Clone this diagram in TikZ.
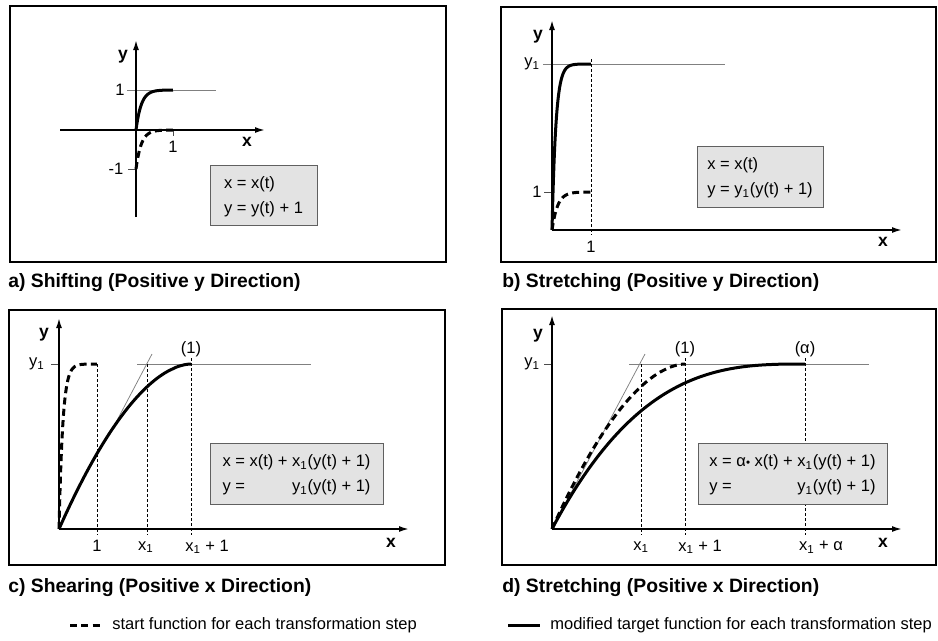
\documentclass[tikz,border=0pt]{standalone}
\usepackage{fontspec}
\setmainfont{Liberation Sans}
\usepackage{tikz}
\usetikzlibrary{arrows.meta}
\newcommand{\low}[1]{\textsubscript{#1}}
\renewcommand{\arraystretch}{1.25}
\tikzset{
  frame/.style={draw=black, line width=1.5pt},
  axis/.style={-{Latex[length=6pt,width=3.6pt]}, line width=1pt},
  curve/.style={line width=1.8pt},
  startcurve/.style={line width=1.8pt, dash pattern=on 4.2pt off 2.6pt},
  refline/.style={draw=gray, line width=0.45pt},
  tickline/.style={draw=black!70, line width=0.45pt},
  guide/.style={draw=black, line width=0.5pt, dash pattern=on 1.6pt off 1.4pt},
  eqbox/.style={
    draw=gray!75!black, fill=gray!22, line width=0.6pt,
    minimum height=36.3pt, inner sep=0pt,
    font=\fontsize{9.9}{12}\selectfont
  },
  axlabel/.style={font=\fontsize{10.5}{12}\selectfont\bfseries, inner sep=0pt},
  ticklabel/.style={font=\fontsize{9.9}{12}\selectfont, inner sep=0pt},
  caption/.style={anchor=west, font=\fontsize{11.6}{14}\selectfont\bfseries, inner sep=0pt},
  legend/.style={anchor=west, font=\fontsize{9.9}{12}\selectfont, inner sep=0pt},
  declare function={
    rise(\t,\k)=(1-exp(-\k*\t))/(1-exp(-\k));
    bend(\s,\p)=1-(1-\s)^\p;
  }
}

\begin{document}
\begin{tikzpicture}[x=0.6pt, y=-0.6pt]
\useasboundingbox (0,0) rectangle (938,640);

%% a) shifting
\draw[frame] (10,6) rectangle (446,262);
\draw[refline] (127,90) -- (216,90);
\draw[tickline] (128,169) -- (136,169);
\draw[tickline] (173,130) -- (173,136);
\draw[axis] (60,130) -- (265,130);
\draw[axis] (136,217) -- (136,40);
\draw[startcurve] plot[domain=0:1, samples=50] ({136+37*\x}, {169-39*rise(\x,7)});
\draw[curve] plot[domain=0:1, samples=50] ({136+37*\x}, {130-40*rise(\x,7)});
\node[axlabel] (ya) at (123,57) {y};
\node[axlabel] (xa) at (247,142) {x};
\node[ticklabel] (ya1) at (120,90) {1};
\node[ticklabel] (yam1) at (116,169) {-1};
\node[ticklabel] (xa1) at (173,147) {1};
\node[eqbox, minimum width=64.2pt] (eqa) at (263.5,195.5)
  {\begin{tabular}{@{}l@{}}x = x(t)\\ y = y(t) + 1\end{tabular}};
\node[caption] (capa) at (8,283) {a) Shifting (Positive y Direction)};

%% b) stretching in y
\draw[frame] (501,7) rectangle (936,262);
\draw[refline] (543,64) -- (725,64);
\draw[tickline] (544,192) -- (552,192);
\draw[guide] (591,59) -- (591,235);
\draw[axis] (552,230) -- (902,230);
\draw[axis] (552,230) -- (552,20);
\draw[startcurve] plot[domain=0:1, samples=50] ({552+39*\x}, {230-38*rise(\x,7)});
\draw[curve] plot[domain=0:1, samples=80] ({552+39*\x}, {230-166*rise(\x,10)});
\node[axlabel] (yb) at (538,37) {y};
\node[axlabel] (xb) at (883,242) {x};
\node[ticklabel] (yb1) at (532,64) {y\low{1}};
\node[ticklabel] (yb2) at (537,192) {1};
\node[ticklabel] (xb1) at (591,247) {1};
\node[eqbox, minimum width=75.6pt] (eqb) at (760,177)
  {\begin{tabular}{@{}l@{}}x = x(t)\\ y = y\low{1}(y(t) + 1)\end{tabular}};
\node[caption] (capb) at (502,283) {b) Stretching (Positive y Direction)};

%% c) shearing in x
\draw[frame] (9,310) rectangle (445,565);
\draw[tickline] (51,364) -- (59,364);
\draw[refline] (137,364) -- (311,364);
\draw[refline] (113,428) -- (152,354);
\draw[guide] (97,364) -- (97,535);
\draw[guide] (147,364) -- (147,535);
\draw[guide] (191,358) -- (191,535);
\draw[axis] (59,529) -- (409,529);
\draw[axis] (59,529) -- (59,318);
\draw[startcurve] plot[domain=0:1, samples=80] ({59+38*\x}, {529-165*rise(\x,10)});
\draw[curve] plot[domain=0:1, samples=60] ({59+132*\x}, {529-165*bend(\x,1.8)});
\node[axlabel] (yc) at (44,335) {y};
\node[axlabel] (xc) at (391,543) {x};
\node[ticklabel] (yc1) at (37,364) {y\low{1}};
\node[ticklabel] (xc1) at (97,546) {1};
\node[ticklabel] (xc2) at (146,547) {x\low{1}};
\node[ticklabel] (xc3) at (207,547) {x\low{1} + 1};
\node[ticklabel] (pc1) at (191,349) {(1)};
\node[eqbox, minimum width=103.8pt] (eqc) at (296.5,474)
  {\begin{tabular}{@{}l@{}r@{}}x = x(t) + & \ x\low{1}(y(t) + 1)\\ y = & y\low{1}(y(t) + 1)\end{tabular}};
\node[caption] (capc) at (8,588) {c) Shearing (Positive x Direction)};

%% d) stretching in x
\draw[frame] (502,309) rectangle (936,565);
\draw[tickline] (544,364) -- (552,364);
\draw[refline] (629,364) -- (869,364);
\draw[refline] (570,495) -- (645,354);
\draw[guide] (641,364) -- (641,535);
\draw[guide] (685,358) -- (685,535);
\draw[guide] (805,358) -- (805,535);
\draw[axis] (552,529) -- (902,529);
\draw[axis] (552,529) -- (552,315);
\draw[startcurve] plot[domain=0:1, samples=60] ({552+133*\x}, {529-165*bend(\x,1.8)});
\draw[curve] plot[domain=0:1, samples=80] ({552+253*\x}, {529-165*bend(\x,2.9)});
\node[axlabel] (yd) at (538,336) {y};
\node[axlabel] (xd) at (883,543) {x};
\node[ticklabel] (yd1) at (532,364) {y\low{1}};
\node[ticklabel] (xd1) at (641,547) {x\low{1}};
\node[ticklabel] (xd2) at (700,547) {x\low{1} + 1};
\node[ticklabel] (xd3) at (821,547) {x\low{1} + α};
\node[ticklabel] (pd1) at (685,349) {(1)};
\node[ticklabel] (pd2) at (805,349) {(α)};
\node[eqbox, minimum width=113.4pt] (eqd) at (792.5,474)
  {\begin{tabular}{@{}l@{}r@{}}x = α{\scriptsize•} x(t) + & \ x\low{1}(y(t) + 1)\\ y = & y\low{1}(y(t) + 1)\end{tabular}};
\node[caption] (capd) at (502,588) {d) Stretching (Positive x Direction)};

%% legend
\coordinate (ls1) at (70,625);
\coordinate (ls2) at (100,625);
\draw[startcurve] (ls1) -- (ls2);
\node[legend] (lstart) at (112,625) {start function for each transformation step};
\coordinate (lt1) at (508,625);
\coordinate (lt2) at (540,625);
\draw[curve] (lt1) -- (lt2);
\node[legend] (ltarget) at (550,625) {modified target function for each transformation step};

\end{tikzpicture}
\end{document}
